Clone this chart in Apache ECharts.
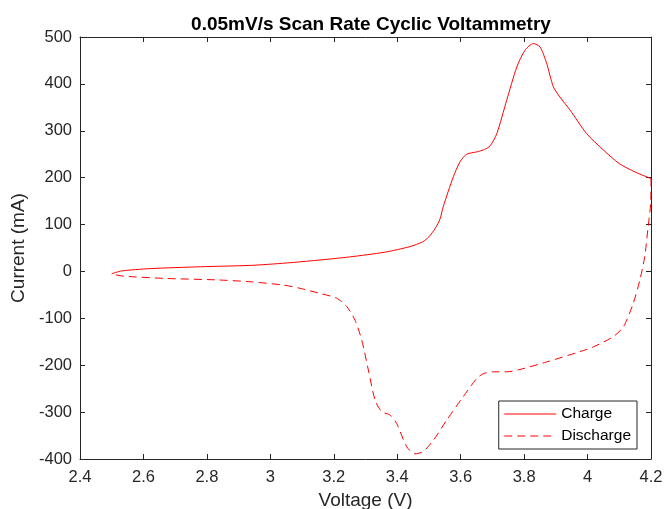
<!DOCTYPE html>
<html>
<head>
<meta charset="utf-8">
<script src="https://cdn.jsdelivr.net/npm/echarts@6/dist/echarts.min.js"></script>
<style>
  html, body { margin: 0; padding: 0; background: #fff; }
  #chart { width: 667px; height: 509px; }
</style>
</head>
<body>
<div id="chart"></div>
<script>
// charge sweep (2.5 V -> 4.2 V)
var chargeV = [2.50, 2.53, 2.62, 2.78, 2.94, 3.05, 3.15, 3.25, 3.36, 3.44, 3.48, 3.50, 3.52, 3.535, 3.545, 3.577, 3.598, 3.619, 3.651, 3.675, 3.693, 3.714, 3.745, 3.777, 3.803, 3.829, 3.85, 3.871, 3.892, 3.913, 3.945, 3.997, 4.05, 4.10, 4.15, 4.20]
var chargeI = [-5, 1, 6, 10, 13, 18, 24, 31, 41, 53, 63, 74, 92, 112, 138, 202, 234, 250, 255, 260, 268, 294, 365, 436, 472, 486, 479, 444, 394, 372, 344, 294, 259, 230, 212, 198]

// discharge sweep (4.2 V -> 2.5 V)
var dischargeV = [4.20, 4.199, 4.191, 4.18, 4.165, 4.144, 4.113, 4.081, 4.018, 3.976, 3.871, 3.787, 3.745, 3.703, 3.682, 3.671, 3.651, 3.608, 3.556, 3.514, 3.482, 3.456, 3.43, 3.398, 3.377, 3.351, 3.33, 3.309, 3.288, 3.267, 3.241, 3.209, 3.157, 3.094, 3.041, 2.936, 2.831, 2.673, 2.537, 2.502]
var dischargeI = [198, 145, 95, 31, -18, -68, -118, -139, -161, -171, -193, -209, -214, -214, -216, -218, -228, -267, -317, -360, -384, -389, -374, -324, -306, -299, -274, -210, -146, -104, -75, -57, -47, -36, -29, -22, -18, -15, -10, -6]

var seriesNames = ['Charge', 'Discharge']
var xTicks = { min: 2.4, max: 4.2, step: 0.2 }
var yTicks = { min: -400, max: 500, step: 100 }

function zip(xs, ys) {
  return xs.map(function(x, i) { return [x, ys[i]] })
}

var axisColor = '#262626'
var font = 'Liberation Sans, Arial, Helvetica, sans-serif'

function xAxisCfg(pos, showLabel) {
  return {
    type: 'value',
    position: pos,
    min: xTicks.min,
    max: xTicks.max,
    interval: xTicks.step,
    name: showLabel ? 'Voltage (V)' : '',
    nameLocation: 'middle',
    nameGap: 32,
    nameTextStyle: { fontSize: 19, color: axisColor, fontFamily: font },
    axisLine: { show: true, onZero: false, lineStyle: { color: axisColor, width: 1 } },
    axisTick: { show: true, inside: true, length: 5, lineStyle: { color: axisColor } },
    axisLabel: {
      show: showLabel,
      fontSize: 16.5,
      color: axisColor,
      fontFamily: font,
      margin: 10,
      formatter: function(v) { return String(+v.toFixed(1)) }
    },
    splitLine: { show: false }
  }
}

function yAxisCfg(pos, showLabel) {
  return {
    type: 'value',
    position: pos,
    min: yTicks.min,
    max: yTicks.max,
    interval: yTicks.step,
    name: showLabel ? 'Current (mA)' : '',
    nameLocation: 'middle',
    nameGap: 49,
    nameTextStyle: { fontSize: 19, color: axisColor, fontFamily: font },
    axisLine: { show: true, onZero: false, lineStyle: { color: axisColor, width: 1 } },
    axisTick: { show: true, inside: true, length: 5, lineStyle: { color: axisColor } },
    axisLabel: { show: showLabel, fontSize: 16.5, color: axisColor, fontFamily: font, margin: 8 },
    splitLine: { show: false }
  }
}

var chart = echarts.init(document.getElementById('chart'))
chart.setOption({
  animation: false,
  backgroundColor: '#ffffff',
  title: {
    text: '0.05mV/s Scan Rate Cyclic Voltammetry',
    left: 366,
    textAlign: 'center',
    top: 10,
    textStyle: { fontSize: 19, fontWeight: 'bold', color: '#000', fontFamily: font }
  },
  grid: { left: 80, right: 16, top: 37, bottom: 50, containLabel: false, outerBoundsMode: 'none' },
  legend: {
    orient: 'vertical',
    right: 30,
    top: 401,
    data: seriesNames,
    itemWidth: 52,
    itemHeight: 10,
    itemGap: 6,
    padding: [5, 6, 5, 5],
    backgroundColor: '#fff',
    borderColor: axisColor,
    borderWidth: 1,
    borderRadius: 0,
    itemStyle: { opacity: 0 },
    lineStyle: { width: 1 },
    textStyle: { fontSize: 15.5, color: '#000', fontFamily: font }
  },
  xAxis: [xAxisCfg('bottom', true), xAxisCfg('top', false)],
  yAxis: [yAxisCfg('left', true), yAxisCfg('right', false)],
  series: [
    {
      name: seriesNames[0],
      type: 'line',
      data: zip(chargeV, chargeI),
      showSymbol: false,
      symbol: 'none',
      smooth: 0.25,
      lineStyle: { color: '#ff0000', width: 1 },
      itemStyle: { color: '#ff0000' }
    },
    {
      name: seriesNames[1],
      type: 'line',
      data: zip(dischargeV, dischargeI),
      showSymbol: false,
      symbol: 'none',
      smooth: 0.25,
      lineStyle: { color: '#ff0000', width: 1, type: [8, 5] },
      itemStyle: { color: '#ff0000' }
    }
  ]
})
</script>
</body>
</html>
